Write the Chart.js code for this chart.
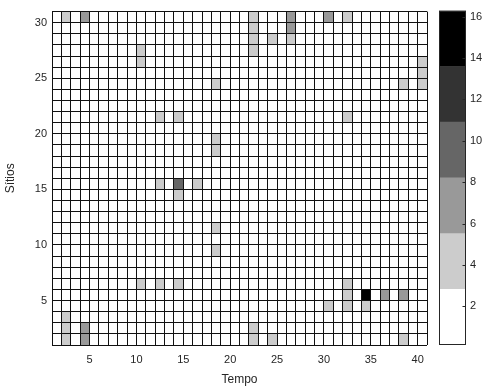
<!DOCTYPE html>
<html>
<head>
<meta charset="utf-8">
<script src="https://cdn.jsdelivr.net/npm/chart.js@4"></script>
<style>
    body { margin: 0; background: #fff; }
    #wrap { position: relative; width: 489px; height: 392px; }
    #heat { position: absolute; left: 0; top: 0; }
    #barra { position: absolute; left: 430px; top: 0; }
</style>
</head>
<body>
<div id="wrap">
    <canvas id="heat" width="489" height="392"></canvas>
    <canvas id="barra" width="59" height="392"></canvas>
</div>
<script>
// cells that are not white (lower-left corner of the cell, pcolor style)
const tempo  = [2, 4, 22, 22, 22, 22, 24, 26, 26, 26, 30, 32, 10, 10, 40, 40, 40, 38, 18, 12, 14, 32, 18, 18,
                12, 14, 16, 14, 18, 18, 10, 12, 14, 32, 32, 34, 36, 38, 30, 32, 34, 2, 2, 2, 4, 4, 22, 22, 24, 38];
const sitios = [30, 30, 30, 29, 28, 27, 28, 30, 29, 28, 30, 30, 27, 26, 26, 25, 24, 24, 24, 21, 21, 21, 19, 18,
                15, 15, 15, 14, 11, 9, 6, 6, 6, 6, 5, 5, 5, 5, 4, 4, 4, 3, 2, 1, 2, 1, 2, 1, 1, 1];
const valor  = [4, 7, 4, 4, 4, 4, 4, 7, 7, 4, 7, 4, 4, 4, 4, 4, 4, 4, 4, 4, 4, 4, 4, 4,
                4, 10, 4, 4, 4, 4, 4, 4, 4, 4, 4, 16, 7, 7, 4, 4, 4, 4, 4, 4, 7, 7, 4, 4, 4, 4];

const xTicks = [5, 10, 15, 20, 25, 30, 35, 40];
const yTicks = [5, 10, 15, 20, 25, 30];

// colour bar: band limits and grey levels
const cbLimites = [0.13, 2.82, 5.51, 8.21, 10.9, 13.59, 16.29];
const cbCores = ['#ffffff', '#cccccc', '#999999', '#666666', '#333333', '#000000'];
const cbTicks = [2, 4, 6, 8, 10, 12, 14, 16];

Chart.defaults.font.family = "'Liberation Sans', Arial, sans-serif";
Chart.defaults.font.size = 11;
Chart.defaults.color = '#262626';

function corDe(v) {
    for (let k = 0; k < cbCores.length; k++) {
        if (v < cbLimites[k + 1]) return cbCores[k];
    }
    return cbCores[cbCores.length - 1];
}

function inteiros(a, b) {
    const out = [];
    for (let i = a; i <= b; i++) out.push({ value: i });
    return out;
}

const celulasPlugin = {
    id: 'celulas',
    beforeDatasetsDraw(chart) {
        const ctx = chart.ctx;
        const xs = chart.scales.x, ys = chart.scales.y;
        ctx.save();
        chart.data.datasets[0].data.forEach(p => {
            const x0 = xs.getPixelForValue(p.x);
            const x1 = xs.getPixelForValue(p.x + 1);
            const y0 = ys.getPixelForValue(p.y + 1);
            const y1 = ys.getPixelForValue(p.y);
            ctx.fillStyle = corDe(p.v);
            ctx.fillRect(x0, y0, x1 - x0, y1 - y0);
        });
        ctx.restore();
    }
};

// frame and small inner tick marks of the colour bar
const molduraPlugin = {
    id: 'moldura',
    afterDraw(chart) {
        const a = chart.chartArea;
        const ctx = chart.ctx;
        const ys = chart.scales.y;
        const l = Math.round(a.left) + 0.5, r = Math.round(a.right) - 0.5;
        ctx.save();
        ctx.strokeStyle = '#262626';
        ctx.lineWidth = 1;
        ctx.strokeRect(l, Math.round(a.top) + 0.5, r - l, Math.round(a.bottom - a.top) - 1);
        ctx.beginPath();
        cbTicks.forEach(v => {
            const y = Math.round(ys.getPixelForValue(v)) + 0.5;
            ctx.moveTo(r - 3, y);
            ctx.lineTo(r, y);
        });
        ctx.stroke();
        ctx.restore();
    }
};

new Chart(document.getElementById('heat'), {
    type: 'scatter',
    data: {
        datasets: [{
            data: tempo.map((t, i) => ({ x: t, y: sitios[i], v: valor[i] })),
            pointRadius: 0,
            pointHoverRadius: 0
        }]
    },
    options: {
        responsive: false,
        animation: false,
        events: [],
        layout: { padding: { top: 9, right: 62, left: 0, bottom: 0 } },
        plugins: { legend: { display: false }, tooltip: { enabled: false } },
        scales: {
            x: {
                type: 'linear', min: 1, max: 41,
                afterBuildTicks: s => { s.ticks = inteiros(1, 41); },
                afterFit: s => { s.height = 47; },
                ticks: {
                    autoSkip: false, maxRotation: 0, padding: 8,
                    callback: v => xTicks.includes(v) ? String(v) : ''
                },
                grid: { color: '#111', lineWidth: 1, drawTicks: false, z: 1 },
                border: { display: false },
                title: { display: true, text: 'Tempo', font: { size: 12 }, padding: { top: 0, bottom: 5 } }
            },
            y: {
                type: 'linear', min: 1, max: 31,
                afterBuildTicks: s => { s.ticks = inteiros(1, 31); },
                afterFit: s => { s.width = 52; },
                ticks: {
                    autoSkip: false, padding: 5,
                    callback: v => yTicks.includes(v) ? String(v) : ''
                },
                grid: { color: '#111', lineWidth: 1, drawTicks: false, z: 1 },
                border: { display: false },
                title: { display: true, text: 'Sítios', font: { size: 12 }, padding: { top: 3, bottom: 0 } }
            }
        }
    },
    plugins: [celulasPlugin]
});

new Chart(document.getElementById('barra'), {
    type: 'bar',
    data: {
        labels: [''],
        datasets: cbCores.map((c, k) => ({
            data: [[cbLimites[k], cbLimites[k + 1]]],
            backgroundColor: c,
            borderWidth: 0,
            grouped: false,
            barPercentage: 1,
            categoryPercentage: 1
        }))
    },
    options: {
        responsive: false,
        animation: false,
        events: [],
        layout: { padding: { top: 9, right: 0, left: 9, bottom: 47 } },
        plugins: { legend: { display: false }, tooltip: { enabled: false } },
        scales: {
            x: { display: false },
            y: {
                position: 'right',
                min: cbLimites[0], max: cbLimites[cbLimites.length - 1],
                afterBuildTicks: s => { s.ticks = cbTicks.map(v => ({ value: v })); },
                afterFit: s => { s.width = 23; },
                ticks: { padding: 4 },
                grid: { display: false, drawTicks: false },
                border: { display: false }
            }
        }
    },
    plugins: [molduraPlugin]
});
</script>
</body>
</html>
